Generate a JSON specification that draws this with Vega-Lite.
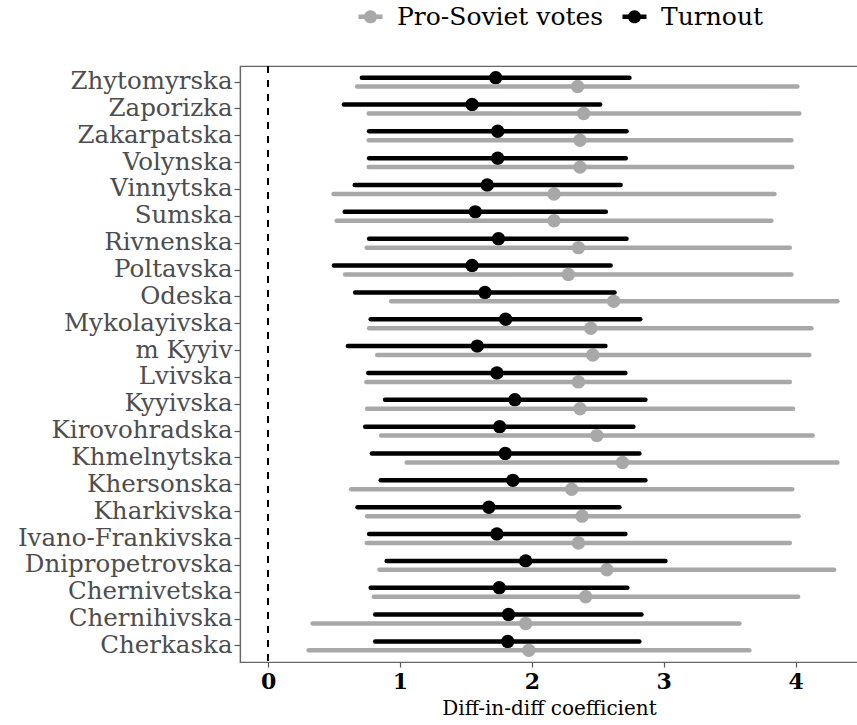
{
  "$schema": "https://vega.github.io/schema/vega-lite/v6.json",
  "autosize": {"type": "none"},
  "width": 618,
  "height": 596,
  "padding": {"left": 240, "top": 66, "right": -1, "bottom": 63},
  "background": "white",
  "config": {
    "view": {"stroke": "#666666", "strokeWidth": 1.2},
    "font": "DejaVu Serif"
  },
  "data": {
    "values": [
      {"region": "Zhytomyrska", "series": "Turnout", "lo": 0.711, "est": 1.726, "hi": 2.740},
      {"region": "Zhytomyrska", "series": "Pro-Soviet votes", "lo": 0.675, "est": 2.347, "hi": 4.013},
      {"region": "Zaporizka", "series": "Turnout", "lo": 0.575, "est": 1.547, "hi": 2.518},
      {"region": "Zaporizka", "series": "Pro-Soviet votes", "lo": 0.763, "est": 2.393, "hi": 4.028},
      {"region": "Zakarpatska", "series": "Turnout", "lo": 0.766, "est": 1.741, "hi": 2.718},
      {"region": "Zakarpatska", "series": "Pro-Soviet votes", "lo": 0.763, "est": 2.365, "hi": 3.968},
      {"region": "Volynska", "series": "Turnout", "lo": 0.766, "est": 1.741, "hi": 2.712},
      {"region": "Volynska", "series": "Pro-Soviet votes", "lo": 0.763, "est": 2.365, "hi": 3.974},
      {"region": "Vinnytska", "series": "Turnout", "lo": 0.657, "est": 1.662, "hi": 2.673},
      {"region": "Vinnytska", "series": "Pro-Soviet votes", "lo": 0.496, "est": 2.168, "hi": 3.840},
      {"region": "Sumska", "series": "Turnout", "lo": 0.581, "est": 1.571, "hi": 2.561},
      {"region": "Sumska", "series": "Pro-Soviet votes", "lo": 0.520, "est": 2.168, "hi": 3.816},
      {"region": "Rivnenska", "series": "Turnout", "lo": 0.766, "est": 1.747, "hi": 2.718},
      {"region": "Rivnenska", "series": "Pro-Soviet votes", "lo": 0.748, "est": 2.353, "hi": 3.956},
      {"region": "Poltavska", "series": "Turnout", "lo": 0.499, "est": 1.547, "hi": 2.597},
      {"region": "Poltavska", "series": "Pro-Soviet votes", "lo": 0.584, "est": 2.277, "hi": 3.968},
      {"region": "Odeska", "series": "Turnout", "lo": 0.660, "est": 1.644, "hi": 2.627},
      {"region": "Odeska", "series": "Pro-Soviet votes", "lo": 0.933, "est": 2.620, "hi": 4.317},
      {"region": "Mykolayivska", "series": "Turnout", "lo": 0.778, "est": 1.801, "hi": 2.822},
      {"region": "Mykolayivska", "series": "Pro-Soviet votes", "lo": 0.766, "est": 2.447, "hi": 4.120},
      {"region": "m Kyyiv", "series": "Turnout", "lo": 0.605, "est": 1.586, "hi": 2.558},
      {"region": "m Kyyiv", "series": "Pro-Soviet votes", "lo": 0.827, "est": 2.462, "hi": 4.104},
      {"region": "Lvivska", "series": "Turnout", "lo": 0.760, "est": 1.735, "hi": 2.709},
      {"region": "Lvivska", "series": "Pro-Soviet votes", "lo": 0.745, "est": 2.353, "hi": 3.956},
      {"region": "Kyyivska", "series": "Turnout", "lo": 0.887, "est": 1.871, "hi": 2.861},
      {"region": "Kyyivska", "series": "Pro-Soviet votes", "lo": 0.751, "est": 2.365, "hi": 3.980},
      {"region": "Kirovohradska", "series": "Turnout", "lo": 0.736, "est": 1.756, "hi": 2.770},
      {"region": "Kirovohradska", "series": "Pro-Soviet votes", "lo": 0.857, "est": 2.493, "hi": 4.129},
      {"region": "Khmelnytska", "series": "Turnout", "lo": 0.787, "est": 1.798, "hi": 2.815},
      {"region": "Khmelnytska", "series": "Pro-Soviet votes", "lo": 1.051, "est": 2.687, "hi": 4.317},
      {"region": "Khersonska", "series": "Turnout", "lo": 0.854, "est": 1.856, "hi": 2.861},
      {"region": "Khersonska", "series": "Pro-Soviet votes", "lo": 0.630, "est": 2.302, "hi": 3.974},
      {"region": "Kharkivska", "series": "Turnout", "lo": 0.678, "est": 1.674, "hi": 2.664},
      {"region": "Kharkivska", "series": "Pro-Soviet votes", "lo": 0.751, "est": 2.381, "hi": 4.022},
      {"region": "Ivano-Frankivska", "series": "Turnout", "lo": 0.766, "est": 1.735, "hi": 2.709},
      {"region": "Ivano-Frankivska", "series": "Pro-Soviet votes", "lo": 0.748, "est": 2.353, "hi": 3.956},
      {"region": "Dnipropetrovska", "series": "Turnout", "lo": 0.899, "est": 1.953, "hi": 3.013},
      {"region": "Dnipropetrovska", "series": "Pro-Soviet votes", "lo": 0.845, "est": 2.569, "hi": 4.292},
      {"region": "Chernivetska", "series": "Turnout", "lo": 0.778, "est": 1.753, "hi": 2.724},
      {"region": "Chernivetska", "series": "Pro-Soviet votes", "lo": 0.802, "est": 2.408, "hi": 4.019},
      {"region": "Chernihivska", "series": "Turnout", "lo": 0.812, "est": 1.823, "hi": 2.831},
      {"region": "Chernihivska", "series": "Pro-Soviet votes", "lo": 0.338, "est": 1.953, "hi": 3.574},
      {"region": "Cherkaska", "series": "Turnout", "lo": 0.812, "est": 1.817, "hi": 2.815},
      {"region": "Cherkaska", "series": "Pro-Soviet votes", "lo": 0.308, "est": 1.977, "hi": 3.649}
    ]
  },
  "encoding": {
    "y": {
      "field": "region",
      "type": "nominal",
      "sort": ["Zhytomyrska", "Zaporizka", "Zakarpatska", "Volynska", "Vinnytska", "Sumska", "Rivnenska", "Poltavska", "Odeska", "Mykolayivska", "m Kyyiv", "Lvivska", "Kyyivska", "Kirovohradska", "Khmelnytska", "Khersonska", "Kharkivska", "Ivano-Frankivska", "Dnipropetrovska", "Chernivetska", "Chernihivska", "Cherkaska"],
      "scale": {"type": "band", "paddingInner": 0, "paddingOuter": 0.1},
      "axis": {
        "title": null,
        "labelFont": "DejaVu Serif",
        "labelFontSize": 24.5,
        "labelColor": "#4D4D4D",
        "labelLimit": 0,
        "labelPadding": 2,
        "tickSize": 6,
        "tickColor": "#555555",
        "tickWidth": 1.2,
        "domainColor": "#666666",
        "domainWidth": 1.2,
        "grid": false
      }
    }
  },
  "layer": [
    {
      "mark": {"type": "rule", "strokeDash": [7, 7], "strokeWidth": 1.1, "color": "black"},
      "encoding": {"x": {"datum": 0, "type": "quantitative"}, "y": null}
    },
    {
      "mark": {"type": "point", "filled": true, "shape": "circle", "size": 180, "opacity": 1},
      "encoding": {
        "x": {
          "field": "est",
          "type": "quantitative",
          "scale": {"domain": [-0.213, 4.473], "nice": false, "zero": false},
          "axis": {
            "values": [0, 1, 2, 3, 4],
            "format": "d",
            "title": "Diff-in-diff coefficient",
            "titleFont": "DejaVu Serif",
            "titleFontSize": 20,
            "titleFontWeight": "normal",
            "titleColor": "black",
            "titlePadding": 6,
            "labelFont": "DejaVu Serif",
            "labelFontSize": 22,
            "labelFontWeight": "bold",
            "labelColor": "black",
            "labelPadding": 4,
            "tickSize": 5,
            "tickColor": "#555555",
            "tickWidth": 1.2,
            "domainColor": "#666666",
            "domainWidth": 1.2,
            "grid": false
          }
        },
        "yOffset": {"field": "series", "type": "nominal", "scale": {"type": "point", "padding": 1.5, "domain": ["Turnout", "Pro-Soviet votes"]}},
        "color": {
          "field": "series",
          "type": "nominal",
          "scale": {"domain": ["Pro-Soviet votes", "Turnout"], "range": ["#A8A8A8", "#000000"]},
          "legend": {
            "title": null,
            "orient": "none",
            "direction": "horizontal",
            "legendX": 118,
            "legendY": -62,
            "symbolType": "M-1,-0.19H1V0.19H-1Z M-0.55,0A0.55,0.55 0 1,1 0.55,0A0.55,0.55 0 1,1 -0.55,0Z",
            "symbolSize": 576,
            "symbolStrokeWidth": 0,
            "labelFont": "DejaVu Serif",
            "labelFontSize": 25,
            "labelColor": "black",
            "labelLimit": 0,
            "labelOffset": 14,
            "columnPadding": 18
          }
        }
      }
    },
    {
      "mark": {"type": "rule", "strokeWidth": 4.5, "strokeCap": "round"},
      "encoding": {
        "x": {"field": "lo", "type": "quantitative"},
        "x2": {"field": "hi"},
        "yOffset": {"field": "series", "type": "nominal", "scale": {"type": "point", "padding": 1.5, "domain": ["Turnout", "Pro-Soviet votes"]}},
        "color": {
          "field": "series",
          "type": "nominal",
          "legend": {
            "title": null,
            "orient": "none",
            "direction": "horizontal",
            "legendX": 118,
            "legendY": -62,
            "symbolType": "M-1,-0.19H1V0.19H-1Z M-0.55,0A0.55,0.55 0 1,1 0.55,0A0.55,0.55 0 1,1 -0.55,0Z",
            "symbolSize": 576,
            "symbolStrokeWidth": 0,
            "labelFont": "DejaVu Serif",
            "labelFontSize": 25,
            "labelColor": "black",
            "labelLimit": 0,
            "labelOffset": 14,
            "columnPadding": 18
          }
        }
      }
    }
  ]
}
